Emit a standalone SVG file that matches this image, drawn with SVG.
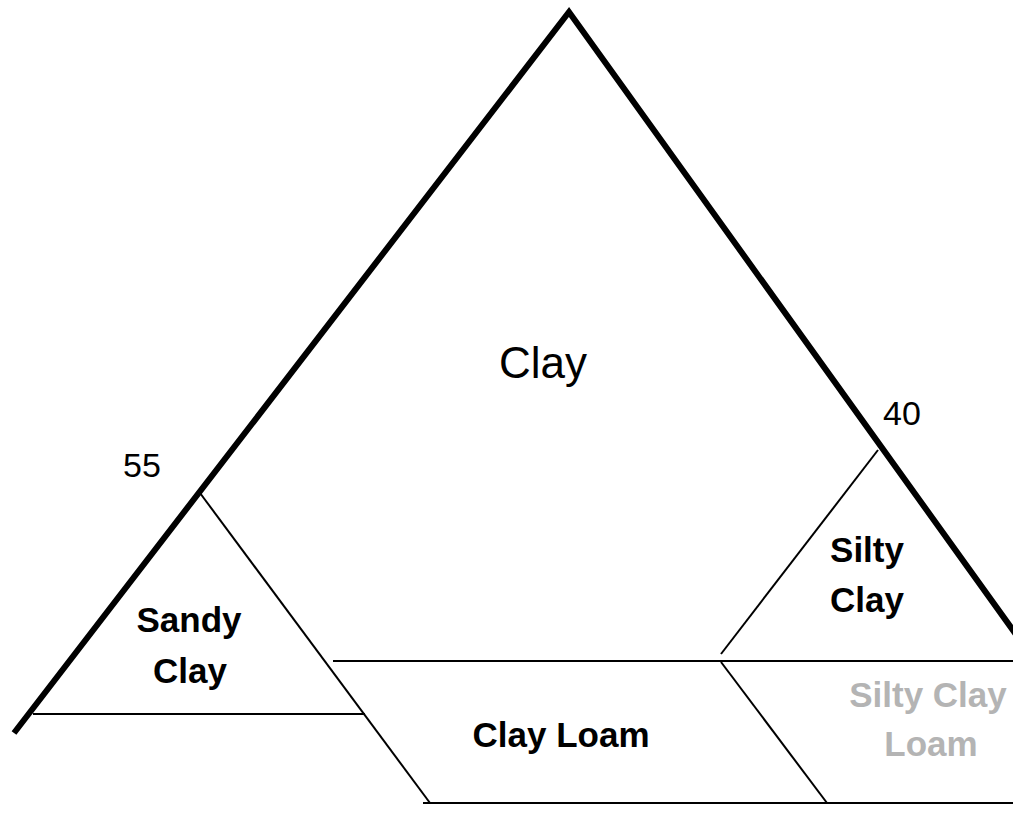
<svg xmlns="http://www.w3.org/2000/svg" width="1013" height="830" viewBox="0 0 1013 830">
<style>
.thick{stroke:#000;stroke-width:6;fill:none;stroke-linecap:butt;stroke-linejoin:miter}
.thin{stroke:#000;stroke-width:2;fill:none}
text{font-family:"Liberation Sans",Arial,sans-serif;text-anchor:middle}
.lbl{font-weight:bold;font-size:35px;fill:#000}
.num{font-size:34px;fill:#000}
.gray{fill:#b4b4b4}
</style>
<rect width="1013" height="830" fill="#fff"/>
<g id="connectors">
<polyline class="thick" points="14,733 569,12 1020,640"/>
<line class="thin" x1="200" y1="493" x2="430" y2="803"/>
<line class="thin" x1="33" y1="714" x2="365" y2="714"/>
<line class="thin" x1="333" y1="661" x2="1013" y2="661"/>
<line class="thin" x1="423" y1="803" x2="1013" y2="803"/>
<line class="thin" x1="878" y1="450" x2="721" y2="654"/>
<line class="thin" x1="721" y1="662" x2="827" y2="803"/>
</g>
<g id="clay"><text x="543" y="378" style="font-size:44px">Clay</text></g>
<g id="label-55"><text class="num" x="142" y="477">55</text></g>
<g id="label-40"><text class="num" x="902" y="425">40</text></g>
<g id="sandy-clay"><text class="lbl" x="189" y="632">Sandy</text><text class="lbl" x="190" y="683">Clay</text></g>
<g id="silty-clay"><text class="lbl" x="867" y="562">Silty</text><text class="lbl" x="867" y="612">Clay</text></g>
<g id="clay-loam"><text class="lbl" x="561" y="747">Clay Loam</text></g>
<g id="silty-clay-loam"><text class="lbl gray" x="928" y="707">Silty Clay</text><text class="lbl gray" x="931" y="756">Loam</text></g>
</svg>
